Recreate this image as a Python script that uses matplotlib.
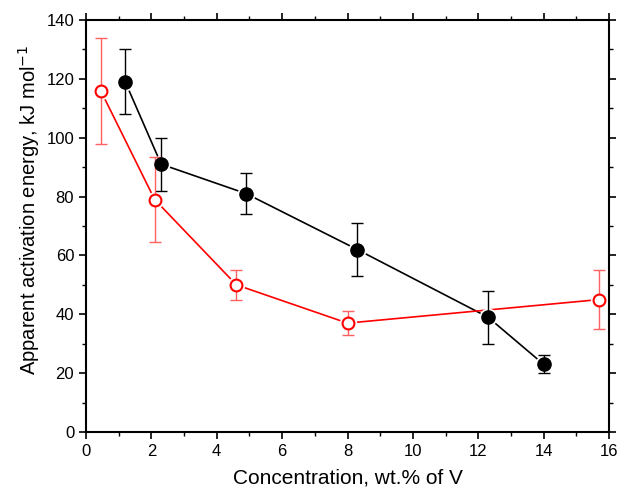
import matplotlib
matplotlib.use("Agg")
import matplotlib.pyplot as plt
from matplotlib.ticker import MultipleLocator

plt.rcParams['font.family'] = ['Liberation Sans', 'DejaVu Sans']

black_x = [1.2, 2.3, 4.9, 8.3, 12.3, 14.0]
black_y = [119, 91, 81, 62, 39, 23]
black_err = [11, 9, 7, 9, 9, 3]

red_x = [0.45, 2.1, 4.6, 8.0, 15.7]
red_y = [116, 79, 50, 37, 45]
red_err = [18, 14.5, 5, 4, 10]

fig = plt.figure(figsize=(6.19, 4.9), dpi=100)
ax = fig.add_axes([86/619, 58/490, 523/619, 412/490])

# error bars
ax.errorbar(black_x, black_y, yerr=black_err, fmt='none', ecolor='black',
            elinewidth=1.0, capsize=4, capthick=1.0, zorder=2)
ax.errorbar(red_x, red_y, yerr=red_err, fmt='none', ecolor='#ff6060',
            elinewidth=1.0, capsize=4, capthick=1.0, zorder=2)

# lines
ax.plot(black_x, black_y, color='black', lw=1.2, zorder=1)
ax.plot(red_x, red_y, color='red', lw=1.2, zorder=1)

# white halos for line gaps
ax.plot(black_x, black_y, 'o', ms=13, mfc='white', mec='none', zorder=1.5)
ax.plot(red_x, red_y, 'o', ms=12.5, mfc='white', mec='none', zorder=1.5)

# markers
ax.plot(black_x, black_y, 'o', ms=9.5, mfc='black', mec='black', zorder=3)
ax.plot(red_x, red_y, 'o', ms=8.5, mfc='white', mec='red', mew=1.5, zorder=3)

ax.set_xlim(0, 16)
ax.set_ylim(0, 140)
ax.xaxis.set_major_locator(MultipleLocator(2))
ax.xaxis.set_minor_locator(MultipleLocator(1))
ax.yaxis.set_major_locator(MultipleLocator(20))
ax.yaxis.set_minor_locator(MultipleLocator(10))
ax.tick_params(which='both', direction='out', top=True, right=True, labelsize=12)
ax.tick_params(which='major', length=5, width=1.2)
ax.tick_params(which='minor', length=3, width=1.0)
for s in ax.spines.values():
    s.set_linewidth(1.5)

ax.set_xlabel('Concentration, wt.% of V', fontsize=15)
ax.xaxis.set_label_coords(0.5, -0.088)
ax.set_ylabel('Apparent activation energy, kJ mol$^{-1}$', fontsize=14.5)
ax.yaxis.set_label_coords(-0.085, 0.539)

fig.savefig('out.png', dpi=100)
